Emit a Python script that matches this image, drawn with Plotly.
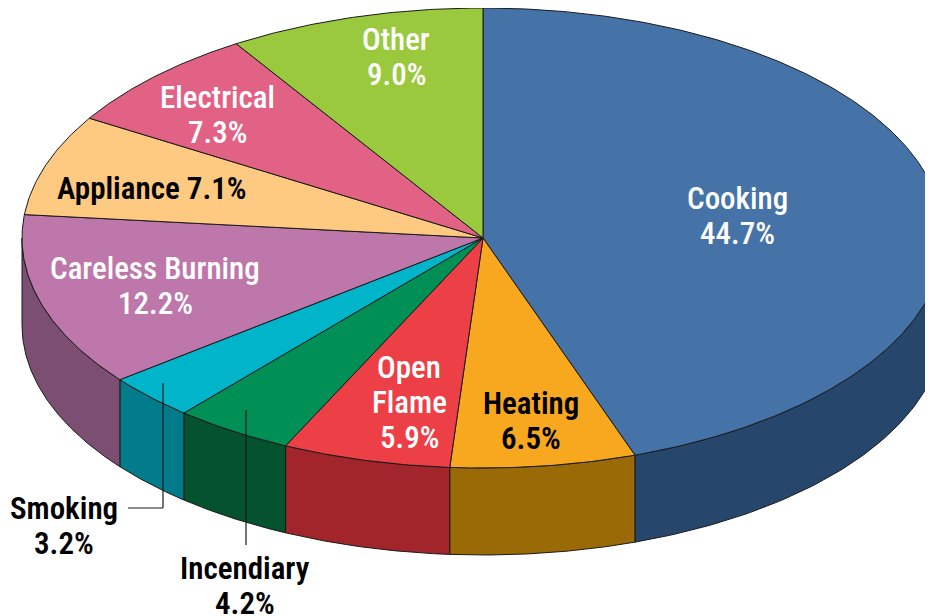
import numpy as np
import plotly.graph_objects as go

# ---- data ----
categories = ["Cooking", "Heating", "Open Flame", "Incendiary", "Smoking",
              "Careless Burning", "Appliance", "Electrical", "Other"]
values = [44.7, 6.5, 5.9, 4.2, 3.2, 12.2, 7.1, 7.3, 9.0]

# ---- styles ----
top_colors = ["#4573a8", "#f8a81e", "#ec4046", "#008f54", "#00b4c9",
              "#bd77ab", "#fec981", "#e26285", "#9ac93e"]
side_colors = ["#27466c", "#9a6a06", "#a1252b", "#04522e", "#027b8a",
               "#7c4e71", "#a9875a", "#964059", "#65852a"]
text_colors = ["white", "black", "white", "black", "black",
               "white", "black", "white", "white"]
label_lines = {
    "Cooking": ["Cooking", "{v}"],
    "Heating": ["Heating", "{v}"],
    "Open Flame": ["Open", "Flame", "{v}"],
    "Incendiary": ["Incendiary", "{v}"],
    "Smoking": ["Smoking", "{v}"],
    "Careless Burning": ["Careless Burning", "{v}"],
    "Appliance": ["Appliance {v}"],
    "Electrical": ["Electrical", "{v}"],
    "Other": ["Other", "{v}"],
}
label_pos = {
    "Cooking": (737, 198), "Heating": (531, 403), "Open Flame": (409, 367),
    "Incendiary": (245, 568), "Smoking": (64, 508),
    "Careless Burning": (155, 268), "Appliance": (152, 188),
    "Electrical": (217, 97), "Other": (396, 39),
}
LINE_STEP = 35
FONT = "Roboto Condensed, Liberation Sans Narrow, DejaVu Sans Condensed, sans-serif"
FSIZE = 31

W, H = 933, 616
OFF = 8  # page body margin: shift axes so data units equal window pixels
CX, CY, RX, RY, DEPTH = 483, 238, 461, 230, 87
EDGE = "#1a1a1a"


def ell(t, dy=0.0):
    r = np.radians(t)
    return CX + RX * np.sin(r), CY - RY * np.cos(r) + dy


fig = go.Figure()
total = sum(values)
bounds = np.concatenate([[0], np.cumsum(values) / total * 360.0])

# sides (front half: 90..270 deg clockwise from top)
for i, c in enumerate(categories):
    a, b = bounds[i], bounds[i + 1]
    s, e = max(a, 90.0), min(b, 270.0)
    if e <= s:
        continue
    t = np.linspace(s, e, 80)
    xt, yt = ell(t)
    xb, yb = ell(t[::-1], DEPTH)
    xs = np.concatenate([xt, xb, xt[:1]])
    ys = np.concatenate([yt, yb, yt[:1]])
    fig.add_trace(go.Scatter(x=xs, y=ys, mode="lines", fill="toself",
                             fillcolor=side_colors[i],
                             line=dict(color=EDGE, width=1),
                             hoverinfo="skip", showlegend=False))

# tops
for i, c in enumerate(categories):
    a, b = bounds[i], bounds[i + 1]
    t = np.linspace(a, b, max(10, int((b - a) * 2)))
    xt, yt = ell(t)
    xs = np.concatenate([[CX], xt, [CX]])
    ys = np.concatenate([[CY], yt, [CY]])
    fig.add_trace(go.Scatter(x=xs, y=ys, mode="lines", fill="toself",
                             fillcolor=top_colors[i],
                             line=dict(color=EDGE, width=1),
                             hoverinfo="skip", showlegend=False))

# labels
for i, c in enumerate(categories):
    x0, y0 = label_pos[c]
    vtxt = f"{values[i]:.1f}%"
    weight = 600 if text_colors[i] == "black" else 500
    for k, ln in enumerate(label_lines[c]):
        fig.add_annotation(x=x0, y=y0 + k * LINE_STEP, text=ln.format(v=vtxt),
                           showarrow=False, xanchor="center", yanchor="middle",
                           font=dict(family=FONT, size=FSIZE, color=text_colors[i],
                                     weight=weight))

# leader lines for outside labels
fig.add_shape(type="line", x0=128, y0=508, x1=163, y1=508,
              line=dict(color=EDGE, width=1.2))
fig.add_shape(type="line", x0=163, y0=508, x1=163, y1=383,
              line=dict(color=EDGE, width=1.2))
fig.add_shape(type="line", x0=246, y0=410, x1=246, y1=545,
              line=dict(color=EDGE, width=1.2))

fig.update_layout(
    width=W - OFF, height=H - OFF, margin=dict(l=0, r=0, t=0, b=0),
    paper_bgcolor="white", plot_bgcolor="white",
    xaxis=dict(range=[OFF, W], visible=False, fixedrange=True),
    yaxis=dict(range=[H, OFF], visible=False, fixedrange=True),
    showlegend=False,
)
fig.write_html("out.html")
